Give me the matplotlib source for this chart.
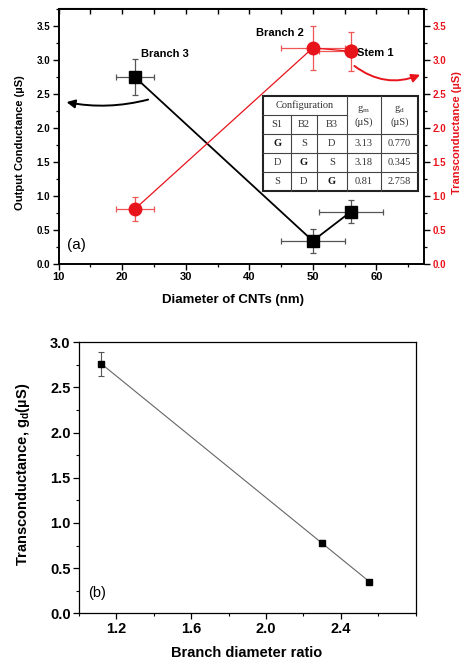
import matplotlib
matplotlib.use("Agg")
import matplotlib.pyplot as plt
import numpy as np
from matplotlib.patches import FancyArrowPatch, Rectangle
from matplotlib.lines import Line2D
from matplotlib.ticker import MultipleLocator

plt.rcParams['font.family'] = ['Liberation Sans', 'DejaVu Sans']

# ---------------- data: panel (a) ----------------
diam = [22, 50, 56]
branch_names = ["Branch 3", "Branch 2", "Stem 1"]
gd_out = [2.75, 0.34, 0.77]          # output conductance (left axis)
gd_out_yerr = [0.27, 0.18, 0.17]
gd_out_xerr = [3, 5, 5]
gm_trans = [0.81, 3.18, 3.13]        # transconductance (right axis)
gm_trans_yerr = [0.18, 0.32, 0.29]
gm_trans_xerr = [3, 5, 5]

# table
table_header = ["S1", "B2", "B3"]
table_cfg = [["G", "S", "D"], ["D", "G", "S"], ["S", "D", "G"]]
table_gm = ["3.13", "3.18", "0.81"]
table_gd = ["0.770", "0.345", "2.758"]

# ---------------- data: panel (b) ----------------
ratio = [1.12, 2.30, 2.55]
gd_b = [2.76, 0.78, 0.35]
gd_b_err = [0.13, 0.03, 0.02]

W, H = 466, 660
fig = plt.figure(figsize=(W / 100, H / 100), dpi=100)

def fx(x):
    return x / W

def fy(y):
    return 1 - y / H

RED = '#e8141c'

# ================= panel (a) =================
ax = fig.add_axes([fx(58.7), fy(264), fx(424) - fx(58.7), fy(8.5) - fy(264)])
ax.set_xlim(10, 67.5)
ax.set_ylim(0, 3.76)
ax2 = ax.twinx()
ax2.set_ylim(0, 3.76)

ax.errorbar(diam, gd_out, xerr=gd_out_xerr, yerr=gd_out_yerr, fmt='none',
            ecolor='#555555', elinewidth=0.9, capsize=2, capthick=0.9, zorder=2)
ax.plot(diam, gd_out, '-', color='black', lw=1.3, marker='s', ms=8,
        mfc='black', mec='black', zorder=3)

ax2.errorbar(diam, gm_trans, xerr=gm_trans_xerr, yerr=gm_trans_yerr, fmt='none',
             ecolor='#ee5555', elinewidth=0.9, capsize=2, capthick=0.9, zorder=2)
ax2.plot(diam, gm_trans, '-', color=RED, lw=0.9, marker='o', ms=9,
         mfc=RED, mec=RED, zorder=3)

for a in (ax, ax2):
    for s in a.spines.values():
        s.set_linewidth(1.2)

ax.xaxis.set_major_locator(MultipleLocator(10))
ax.xaxis.set_minor_locator(MultipleLocator(5))
ax.yaxis.set_major_locator(MultipleLocator(0.5))
ax.yaxis.set_minor_locator(MultipleLocator(0.25))
ax2.yaxis.set_major_locator(MultipleLocator(0.5))
ax2.yaxis.set_minor_locator(MultipleLocator(0.25))
ax.yaxis.set_major_formatter(matplotlib.ticker.FormatStrFormatter('%.1f'))
ax2.yaxis.set_major_formatter(matplotlib.ticker.FormatStrFormatter('%.1f'))

ax.tick_params(which='major', direction='out', length=4, width=1, labelsize=7, pad=2)
ax.tick_params(axis='x', which='major', labelsize=8)
ax.tick_params(which='minor', direction='out', length=2.5, width=0.9)
ax2.tick_params(which='major', direction='out', length=4, width=1, labelsize=7,
                labelcolor=RED, pad=2)
ax2.tick_params(which='minor', direction='out', length=2.5, width=0.9)
for lab in ax.get_xticklabels() + ax.get_yticklabels() + ax2.get_yticklabels():
    lab.set_fontweight('bold')

top = ax.secondary_xaxis('top')
top.xaxis.set_major_locator(MultipleLocator(5))
top.tick_params(direction='in', length=4, width=1, labelsize=0, labeltop=False)

fig.text(fx(233), fy(300), "Diameter of CNTs (nm)", ha='center', va='center',
         fontsize=9.5, fontweight='bold')
fig.text(fx(20.5), fy(143), "Output Conductance (\u00b5S)", ha='center', va='center',
         rotation=90, fontsize=8, fontweight='bold')
fig.text(fx(457), fy(133), "Transconductance (\u00b5S)", ha='center', va='center',
         rotation=90, fontsize=8, fontweight='bold', color=RED)

# point labels
ax.text(23.0, 3.09, branch_names[0], fontsize=8, fontweight='bold', va='center')
ax.text(41.0, 3.40, branch_names[1], fontsize=8, fontweight='bold', va='center')
ax2.text(57.0, 3.11, branch_names[2], fontsize=8, fontweight='bold', va='center',
         zorder=5, bbox=dict(facecolor='white', edgecolor='none', pad=0.3))
ax2.plot([diam[2]], [gm_trans[2]], 'o', ms=9, color=RED, zorder=6)
ax.text(11.3, 0.28, "(a)", fontsize=11, va='center')

# arrows
arr1 = FancyArrowPatch((24.5, 2.43), (10.8, 2.39), connectionstyle="arc3,rad=-0.12",
                       arrowstyle='-|>,head_length=5,head_width=2.5', color='black',
                       lw=1.4, zorder=4)
ax.add_patch(arr1)
arr2 = FancyArrowPatch((56.2, 2.94), (67.3, 2.80), connectionstyle="arc3,rad=0.3",
                       arrowstyle='-|>,head_length=5,head_width=2.5', color=RED,
                       lw=1.4, zorder=4, clip_on=False)
ax2.add_patch(arr2)

# table (figure pixel coordinates)
cols = [263.3, 291.0, 316.7, 346.7, 381.0, 418.3]
rows = [96.0, 115.0, 134.3, 153.3, 172.3, 191.0]
tfont = dict(family=['Liberation Serif', 'DejaVu Serif'], fontsize=7.5, color='#333333')
fig.add_artist(Rectangle((fx(cols[0]), fy(rows[-1])), fx(cols[-1]) - fx(cols[0]),
                         fy(rows[0]) - fy(rows[-1]), transform=fig.transFigure,
                         facecolor='white', edgecolor='#222222', lw=1.5, zorder=5))

def hline(y, x0, x1):
    fig.add_artist(Line2D([fx(x0), fx(x1)], [fy(y), fy(y)], color='#444444', lw=0.8,
                          transform=fig.transFigure, zorder=6))

def vline(x, y0, y1):
    fig.add_artist(Line2D([fx(x), fx(x)], [fy(y0), fy(y1)], color='#444444', lw=0.8,
                          transform=fig.transFigure, zorder=6))

hline(rows[1], cols[0], cols[3])
for r in rows[2:5]:
    hline(r, cols[0], cols[-1])
vline(cols[1], rows[1], rows[-1])
vline(cols[2], rows[1], rows[-1])
vline(cols[3], rows[0], rows[-1])
vline(cols[4], rows[0], rows[-1])

def cell(txt, xc, yc, **kw):
    d = dict(tfont)
    d.update(kw)
    fig.text(fx(xc), fy(yc), txt, ha='center', va='center', zorder=7, **d)

cell("Configuration", (cols[0] + cols[3]) / 2, (rows[0] + rows[1]) / 2)
cell("g$_\\mathregular{m}$\n(\u00b5S)", (cols[3] + cols[4]) / 2, (rows[0] + rows[2]) / 2,
     linespacing=1.3)
cell("g$_\\mathregular{d}$\n(\u00b5S)", (cols[4] + cols[5]) / 2, (rows[0] + rows[2]) / 2,
     linespacing=1.3)
for j, h in enumerate(table_header):
    cell(h, (cols[j] + cols[j + 1]) / 2, (rows[1] + rows[2]) / 2)
for i in range(3):
    yc = (rows[2 + i] + rows[3 + i]) / 2
    for j in range(3):
        v = table_cfg[i][j]
        cell(v, (cols[j] + cols[j + 1]) / 2, yc,
             fontweight='bold' if v == 'G' else 'normal',
             color='#111111' if v == 'G' else '#333333')
    cell(table_gm[i], (cols[3] + cols[4]) / 2, yc)
    cell(table_gd[i], (cols[4] + cols[5]) / 2, yc)

# ================= panel (b) =================
bx = fig.add_axes([fx(79), fy(613.3), fx(415.7) - fx(79), fy(342.3) - fy(613.3)])
bx.set_xlim(1.0, 2.8)
bx.set_ylim(0, 3.0)
coef = np.polyfit(ratio, gd_b, 1)
xl = np.array([ratio[0], ratio[-1]])
bx.plot(xl, np.polyval(coef, xl), '-', color='#666666', lw=0.8, zorder=2)
bx.errorbar(ratio, gd_b, yerr=gd_b_err, fmt='s', color='black', ms=4.5,
            ecolor='#555555', elinewidth=0.8, capsize=2.5, capthick=0.8, zorder=3)
for s in bx.spines.values():
    s.set_linewidth(0.9)
bx.xaxis.set_major_locator(MultipleLocator(0.4))
bx.xaxis.set_minor_locator(MultipleLocator(0.2))
bx.yaxis.set_major_locator(MultipleLocator(0.5))
bx.yaxis.set_minor_locator(MultipleLocator(0.25))
bx.set_xticks([1.2, 1.6, 2.0, 2.4])
bx.xaxis.set_major_formatter(matplotlib.ticker.FormatStrFormatter('%.1f'))
bx.yaxis.set_major_formatter(matplotlib.ticker.FormatStrFormatter('%.1f'))
bx.tick_params(which='major', direction='out', length=4, width=0.9, labelsize=10.5, pad=2)
bx.tick_params(which='minor', direction='out', length=2.5, width=0.8)
for lab in bx.get_xticklabels() + bx.get_yticklabels():
    lab.set_fontweight('bold')
bx.text(1.05, 0.22, "(b)", fontsize=10.5, va='center')

fig.text(fx(23), fy(474), "Transconductance, g$_\\mathregular{d}$(\u00b5S)", ha='center',
         va='center', rotation=90, fontsize=10.5, fontweight='bold')
fig.text(fx(247), fy(653), "Branch diameter ratio", ha='center', va='center',
         fontsize=10.5, fontweight='bold')

fig.savefig("out.png", dpi=100)
